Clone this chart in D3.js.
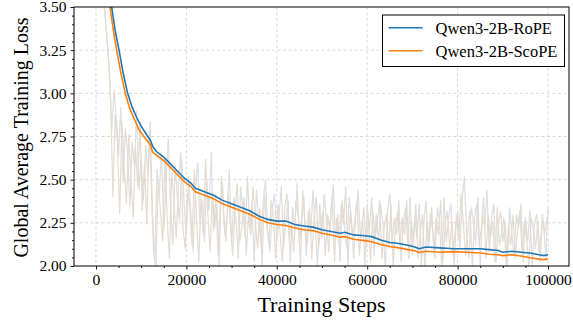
<!DOCTYPE html>
<html>
<head>
<meta charset="utf-8">
<script src="https://cdn.jsdelivr.net/npm/d3@7"></script>
<style>
  body { margin: 0; background: #fff; }
  svg text { font-family: "Liberation Serif", "Times New Roman", serif; fill: #000; }
</style>
</head>
<body>
<div id="chart"></div>
<script>
// raw (noisy) loss: RoPE logged every 500 steps from 500, ScoPE from 750
var ropeRawSteps = d3.range(500, 100001, 500);
var ropeRaw = [
  3.90, 3.72, 3.58, 3.46, 3.30, 3.12, 2.78, 3.02, 2.86, 2.64, 2.92, 2.48, 2.80, 2.66, 2.34, 2.72, 2.58, 2.90, 2.44, 2.62,
  2.38, 2.70, 2.52, 2.84, 2.30, 2.02, 2.56, 2.42, 2.66, 2.20, 2.48, 2.74, 2.34, 2.12, 2.58, 2.40, 2.26, 2.62, 2.36, 2.18,
  2.52, 2.30, 2.08, 2.44, 2.60, 2.24, 2.38, 2.14, 2.50, 2.32, 2.66, 2.20, 2.42, 2.06, 2.36, 2.48, 2.18, 2.30, 2.56, 2.12,
  2.40, 2.26, 2.04, 2.46, 2.32, 2.16, 2.52, 2.22, 2.36, 2.02, 2.44, 2.28, 2.12, 2.38, 2.50, 2.20, 2.08, 2.34, 2.42, 2.14,
  2.30, 2.46, 2.10, 2.26, 2.38, 2.02, 2.34, 2.20, 2.48, 2.12, 2.28, 2.40, 2.06, 2.32, 2.18, 2.44, 2.24, 2.00, 2.36, 2.16,
  2.42, 2.26, 2.08, 2.34, 2.47, 2.14, 2.30, 2.02, 2.38, 2.22, 2.10, 2.40, 2.28, 2.04, 2.32, 2.44, 2.16, 2.26, 2.00, 2.36,
  2.20, 2.40, 2.06, 2.30, 2.14, 2.36, 2.24, 1.98, 2.32, 2.42, 2.10, 2.28, 2.18, 2.38, 2.02, 2.26, 2.34, 2.12, 2.40, 2.06,
  2.28, 2.16, 2.36, 2.00, 2.24, 2.38, 2.10, 2.30, 2.20, 2.04, 2.34, 2.26, 1.98, 2.40, 2.14, 2.28, 2.36, 2.06, 2.22, 2.32,
  2.10, 2.38, 2.52, 2.18, 2.04, 2.34, 2.26, 2.12, 2.40, 2.00, 2.30, 2.22, 2.44, 2.08, 2.28, 2.36, 2.02, 2.24, 2.32, 2.14,
  2.26, 1.98, 2.34, 2.18, 2.06, 2.30, 2.22, 2.36, 2.02, 2.28, 2.14, 2.32, 2.00, 2.24, 2.30, 2.08, 2.20, 2.26, 2.04, 2.34];

var scopeRawSteps = d3.range(750, 100000, 500);
var scopeRaw = [
  3.82, 3.64, 3.52, 3.38, 3.20, 2.96, 2.40, 2.88, 2.70, 2.30, 2.84, 2.56, 2.36, 2.76, 2.50, 2.28, 2.68, 2.46, 2.84, 2.32,
  2.60, 2.24, 2.78, 2.46, 2.08, 1.98, 2.50, 2.32, 2.14, 2.62, 2.28, 2.04, 2.54, 2.38, 2.16, 2.46, 2.66, 2.22, 2.10, 2.44,
  2.34, 2.12, 2.56, 2.26, 2.02, 2.40, 2.18, 2.62, 2.30, 2.08, 2.44, 2.22, 2.36, 2.00, 2.52, 2.28, 2.14, 2.42, 2.24, 2.06,
  2.32, 2.48, 2.14, 2.22, 2.40, 2.06, 2.30, 2.18, 2.46, 2.26, 2.10, 2.34, 2.00, 2.42, 2.24, 2.12, 2.38, 2.28, 2.04, 2.36,
  2.18, 2.02, 2.34, 2.42, 2.14, 2.26, 2.08, 2.38, 2.30, 2.00, 2.44, 2.22, 2.12, 2.34, 2.04, 2.28, 2.40, 2.10, 2.24, 2.32,
  2.06, 2.30, 2.20, 2.40, 2.02, 2.28, 2.12, 2.36, 2.24, 2.46, 2.00, 2.32, 2.16, 2.26, 2.38, 2.06, 2.22, 2.34, 2.10, 2.28,
  2.02, 2.32, 2.16, 2.26, 2.38, 2.04, 2.22, 2.30, 2.10, 2.36, 2.00, 2.24, 2.32, 2.12, 2.28, 2.18, 2.38, 2.04, 2.26, 2.14,
  2.36, 2.04, 2.20, 2.30, 1.98, 2.26, 2.14, 2.34, 2.08, 2.28, 2.18, 2.38, 2.02, 2.24, 2.32, 2.10, 2.26, 2.00, 2.30, 2.16,
  2.42, 2.26, 2.06, 2.20, 2.32, 2.00, 2.28, 2.36, 2.12, 2.22, 2.40, 2.04, 2.30, 2.16, 2.26, 2.02, 2.34, 2.12, 2.20, 2.28,
  2.00, 2.24, 2.12, 2.30, 2.04, 2.20, 2.32, 2.08, 2.26, 2.16, 2.00, 2.28, 2.22, 2.10, 2.26, 2.02, 2.30, 2.18, 2.28, 2.06];

// global average loss curves
var ropeSteps = [2500, 3470, 4200, 5100, 6000, 7000, 8000, 9000, 10000, 11200,
  12000, 12600, 13500, 15000, 16500, 18000, 19500, 21000, 22000, 24000,
  26000, 28000, 30000, 32000, 34000, 36000, 38000, 40000, 42000, 44000,
  46000, 48000, 50000, 52000, 54000, 55000, 57000, 59500, 61000, 63000,
  65000, 67000, 69000, 70500, 71500, 73000, 76000, 79000, 82000, 85000,
  87000, 89000, 90000, 92000, 94000, 96000, 98000, 99000, 100000];
var ropeAvg = [3.72, 3.50, 3.37, 3.25, 3.12, 3.00, 2.92, 2.86, 2.81, 2.76,
  2.73, 2.69, 2.66, 2.63, 2.59, 2.55, 2.51, 2.48, 2.45, 2.43,
  2.41, 2.38, 2.36, 2.34, 2.32, 2.29, 2.27, 2.26, 2.26, 2.24,
  2.232, 2.225, 2.21, 2.20, 2.19, 2.195, 2.18, 2.175, 2.17, 2.15,
  2.136, 2.13, 2.12, 2.11, 2.10, 2.11, 2.105, 2.10, 2.10, 2.10,
  2.095, 2.09, 2.08, 2.085, 2.08, 2.075, 2.065, 2.06, 2.065];

var scopeSteps = [2500, 3100, 4000, 4570, 5500, 6480, 7500, 8500, 9500, 10600,
  11500, 12100, 12500, 13500, 15000, 16500, 18000, 19500, 21000, 22000,
  24000, 26000, 28000, 30000, 32000, 34000, 36200, 38000, 40000, 42000,
  44000, 46000, 48000, 50000, 52000, 54000, 55000, 57000, 59500, 61000,
  63000, 65000, 67000, 69000, 70500, 71500, 73000, 76000, 79000, 82000,
  85000, 87000, 89000, 90000, 92000, 94000, 96000, 98000, 99000, 100000];
var scopeAvg = [3.62, 3.50, 3.34, 3.25, 3.12, 3.00, 2.91, 2.85, 2.79, 2.75,
  2.72, 2.70, 2.66, 2.64, 2.61, 2.57, 2.53, 2.49, 2.46, 2.43,
  2.41, 2.39, 2.36, 2.34, 2.32, 2.30, 2.27, 2.25, 2.24, 2.235,
  2.22, 2.21, 2.205, 2.19, 2.18, 2.167, 2.17, 2.155, 2.147, 2.14,
  2.125, 2.113, 2.105, 2.095, 2.088, 2.078, 2.085, 2.08, 2.083, 2.08,
  2.075, 2.068, 2.065, 2.06, 2.065, 2.058, 2.048, 2.04, 2.037, 2.04];

var seriesNames = ["Qwen3-2B-RoPE", "Qwen3-2B-ScoPE"];
var xTicks = [0, 20000, 40000, 60000, 80000, 100000];
var yTicks = [2.00, 2.25, 2.50, 2.75, 3.00, 3.25, 3.50];

var W = 573, H = 322;
var margin = {top: 7, right: 4, bottom: 56, left: 74};
var width = W - margin.left - margin.right;
var height = H - margin.top - margin.bottom;

var blue = "#1f77b4", orange = "#ff7f0e";

var x = d3.scaleLinear().domain([-4860, 104640]).range([0, width]);
var y = d3.scaleLinear().domain([2.0, 3.5]).range([height, 0]);

var svg = d3.select("#chart").append("svg")
  .attr("width", W)
  .attr("height", H);

var g = svg.append("g")
  .attr("transform", "translate(" + margin.left + "," + margin.top + ")");

g.append("clipPath").attr("id", "clip")
  .append("rect").attr("width", width).attr("height", height);

// grid
g.append("g").selectAll("line")
  .data(xTicks).enter().append("line")
  .attr("x1", d => x(d)).attr("x2", d => x(d))
  .attr("y1", 0).attr("y2", height)
  .attr("stroke", "#cfcfcf").attr("stroke-width", 0.8)
  .attr("stroke-dasharray", "3,2.5");
g.append("g").selectAll("line")
  .data(yTicks.slice(1, -1)).enter().append("line")
  .attr("x1", 0).attr("x2", width)
  .attr("y1", d => y(d)).attr("y2", d => y(d))
  .attr("stroke", "#cfcfcf").attr("stroke-width", 0.8)
  .attr("stroke-dasharray", "3,2.5");

var plot = g.append("g").attr("clip-path", "url(#clip)");

var line = d3.line()
  .x(d => x(d[0]))
  .y(d => y(d[1]));

// noisy raw losses in the background
plot.append("path")
  .datum(d3.zip(ropeRawSteps, ropeRaw))
  .attr("fill", "none")
  .attr("stroke", "#dcdedf")
  .attr("stroke-width", 1.2)
  .attr("d", line);
plot.append("path")
  .datum(d3.zip(scopeRawSteps, scopeRaw))
  .attr("fill", "none")
  .attr("stroke", "#e6dbcf")
  .attr("stroke-width", 1.2)
  .attr("d", line);

plot.append("path")
  .datum(d3.zip(ropeSteps, ropeAvg))
  .attr("fill", "none")
  .attr("stroke", blue)
  .attr("stroke-width", 1.6)
  .attr("d", line);
plot.append("path")
  .datum(d3.zip(scopeSteps, scopeAvg))
  .attr("fill", "none")
  .attr("stroke", orange)
  .attr("stroke-width", 1.6)
  .attr("d", line);

// axes
g.append("g")
  .attr("transform", "translate(0," + height + ")")
  .call(d3.axisBottom(x).tickValues(xTicks).tickFormat(d3.format("d")).tickSize(3.5).tickPadding(4));
g.append("g")
  .attr("transform", "translate(0," + height + ")")
  .call(d3.axisBottom(x).tickValues(d3.range(0, 105000, 5000).filter(d => d % 20000 != 0)).tickSize(2).tickFormat(""));
g.append("g")
  .call(d3.axisLeft(y).tickValues(yTicks).tickFormat(d3.format(".2f")).tickSize(3.5).tickPadding(4));
g.append("g")
  .call(d3.axisLeft(y).tickValues(d3.range(2.05, 3.5, 0.05).filter(d => Math.abs(d * 4 - Math.round(d * 4)) > 1e-6)).tickSize(2).tickFormat(""));

svg.selectAll(".tick text").style("font-size", "15.5px");
svg.selectAll(".tick line").attr("stroke", "#000").attr("stroke-width", 0.9);
svg.selectAll(".domain").remove();

// frame
g.append("rect")
  .attr("width", width).attr("height", height)
  .attr("fill", "none").attr("stroke", "#000").attr("stroke-width", 1);

// labels
svg.append("text")
  .attr("x", margin.left + width / 2)
  .attr("y", 311.5)
  .attr("text-anchor", "middle")
  .style("font-size", "22px")
  .text("Training Steps");
svg.append("text")
  .attr("transform", "translate(28," + (margin.top + height / 2 + 1) + ") rotate(-90)")
  .attr("text-anchor", "middle")
  .style("font-size", "20px")
  .text("Global Average Training Loss");

// legend
var legend = svg.append("g").attr("transform", "translate(382.5,15)");
legend.append("rect")
  .attr("width", 182).attr("height", 51.5)
  .attr("fill", "#fff").attr("stroke", "#000").attr("stroke-width", 1);
[blue, orange].forEach(function(c, i) {
  legend.append("line")
    .attr("x1", 6).attr("x2", 40)
    .attr("y1", 12.7 + i * 23).attr("y2", 12.7 + i * 23)
    .attr("stroke", c).attr("stroke-width", 1.6);
  legend.append("text")
    .attr("x", 53).attr("y", 18.5 + i * 23)
    .style("font-size", "16.5px")
    .text(seriesNames[i]);
});
</script>
</body>
</html>
